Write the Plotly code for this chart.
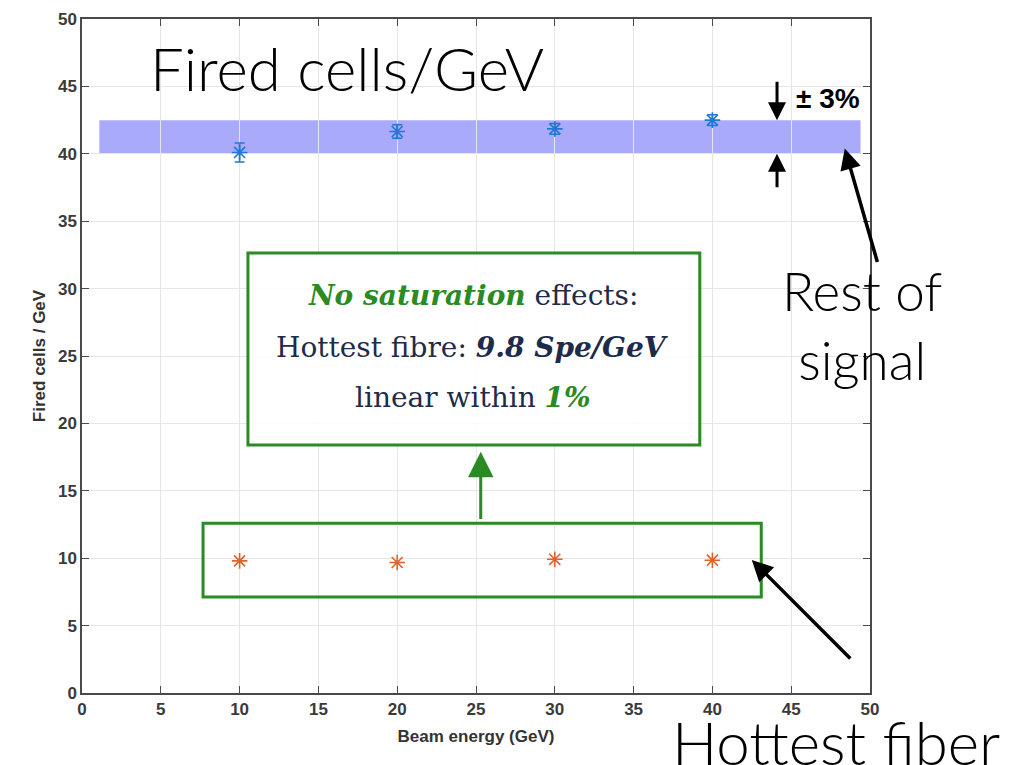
import plotly.graph_objects as go

# ---- data ----
beam_energy = [10, 20, 30, 40]
fired_cells_per_gev = [40.1, 41.65, 41.85, 42.5]
fired_cells_err = [0.7, 0.5, 0.4, 0.4]
hottest_fiber = [9.8, 9.68, 9.92, 9.85]
band_center = 41.25
band_pct = 3.0
band_x = [1.1, 49.4]

x_ticks = [0, 5, 10, 15, 20, 25, 30, 35, 40, 45, 50]
y_ticks = [0, 5, 10, 15, 20, 25, 30, 35, 40, 45, 50]

blue = "#1f78d4"
orange = "#e0622a"
green = "#2a8a24"
navy = "#1f2b4a"
big_font = "Lato"

band_lo = band_center * (1 - band_pct / 100)
band_hi = band_center * (1 + band_pct / 100)

# page body has an 8px margin: shift plot area so that it lands where the reference has it
L, R, T, B = 74, 170, 11, 80
PW, PH = 1032 - L - R, 765 - T - B


def px_paper(px, py):
    """reference pixel -> paper coords (accounting for 8px page offset)"""
    return (px - 8 - L) / PW, (765 - B - (py - 8)) / PH


fig = go.Figure()

fig.add_trace(go.Scatter(
    x=beam_energy, y=fired_cells_per_gev, mode="markers",
    marker=dict(symbol="asterisk-open", size=13, color=blue, line=dict(width=1.6, color=blue)),
    error_y=dict(type="data", array=fired_cells_err, color=blue, thickness=1.5, width=5),
    showlegend=False,
))
fig.add_trace(go.Scatter(
    x=beam_energy, y=hottest_fiber, mode="markers",
    marker=dict(symbol="asterisk-open", size=13, color=orange, line=dict(width=1.6, color=orange)),
    showlegend=False,
))

shapes = [
    dict(type="rect", xref="x", yref="y", x0=band_x[0], x1=band_x[1], y0=band_lo, y1=band_hi,
         fillcolor="rgba(100,100,245,0.55)", line=dict(width=0), layer="below"),
    dict(type="rect", xref="x", yref="y", x0=10.53, x1=39.2, y0=18.4, y1=32.64,
         line=dict(color=green, width=3), fillcolor="rgba(255,255,255,0.85)", layer="above"),
    dict(type="rect", xref="x", yref="y", x0=7.68, x1=43.1, y0=7.12, y1=12.6,
         line=dict(color=green, width=3), fillcolor="rgba(0,0,0,0)", layer="above"),
]

box_font = dict(family="DejaVu Serif", size=28, color=navy)
rx, ry = px_paper(862, 325)
hx, hy = px_paper(670, 742)
annotations = [
    dict(x=4.2, y=46.4, xref="x", yref="y", xanchor="left", yanchor="middle", showarrow=False,
         text="Fired cells/GeV", font=dict(family=big_font, size=60, color="black", weight=300)),
    dict(x=24.8, y=29.5, xref="x", yref="y", xanchor="center", showarrow=False,
         text=f"<b><i><span style='color:{green}'>No saturation</span></i></b> effects:", font=box_font),
    dict(x=24.8, y=25.6, xref="x", yref="y", xanchor="center", showarrow=False,
         text="Hottest fibre: <b><i>9.8 Spe/GeV</i></b>", font=box_font),
    dict(x=24.8, y=21.9, xref="x", yref="y", xanchor="center", showarrow=False,
         text=f"linear within <b><i><span style='color:{green}'>1%</span></i></b>", font=box_font),
    dict(x=25.3, y=17.9, xref="x", yref="y", ax=25.3, ay=12.8, axref="x", ayref="y",
         showarrow=True, arrowhead=2, arrowsize=1.7, arrowwidth=3, arrowcolor=green, text=""),
    dict(x=44.1, y=band_hi, xref="x", yref="y", ax=0, ay=-40, showarrow=True,
         arrowhead=2, arrowsize=1.2, arrowwidth=3, arrowcolor="black", text=""),
    dict(x=44.1, y=band_lo, xref="x", yref="y", ax=0, ay=35, showarrow=True,
         arrowhead=2, arrowsize=1.2, arrowwidth=3, arrowcolor="black", text=""),
    dict(x=45.2, y=44.1, xref="x", yref="y", xanchor="left", showarrow=False,
         text="<b>± 3%</b>", font=dict(family="Liberation Sans", size=28, color="black")),
    dict(x=48.4, y=40.4, xref="x", yref="y", ax=33, ay=115, showarrow=True,
         arrowhead=2, arrowsize=1.2, arrowwidth=3.5, arrowcolor="black", text=""),
    dict(x=rx, y=ry, xref="paper", yref="paper", xanchor="center", yanchor="middle", showarrow=False,
         text="Rest of<br>signal", font=dict(family=big_font, size=53, color="black", weight=300),
         align="center"),
    dict(x=42.5, y=9.87, xref="x", yref="y", ax=100, ay=100, showarrow=True,
         arrowhead=2, arrowsize=1.2, arrowwidth=3.5, arrowcolor="black", text=""),
    dict(x=hx, y=hy, xref="paper", yref="paper", xanchor="left",
         yanchor="middle", showarrow=False, text="Hottest fiber",
         font=dict(family=big_font, size=60, color="black", weight=300)),
]

axis_common = dict(
    showgrid=True, gridcolor="#e6e6e6", gridwidth=1, zeroline=False,
    showline=True, linecolor="#4a4a4a", linewidth=1.5, mirror="allticks",
    ticks="inside", ticklen=7, tickcolor="#4a4a4a", tickwidth=1.2, automargin=False,
    tickfont=dict(family="Liberation Sans", size=17, color="#3a3a3a", weight="bold"),
)

fig.update_layout(
    width=1032, height=765,
    margin=dict(l=L, r=R, t=T, b=B, autoexpand=False),
    paper_bgcolor="white", plot_bgcolor="white",
    xaxis=dict(range=[0, 50], tickvals=x_ticks,
               title=dict(text="Beam energy (GeV)", standoff=12,
                          font=dict(family="Liberation Sans", size=17, color="#333", weight="bold")),
               **axis_common),
    yaxis=dict(range=[0, 50], tickvals=y_ticks,
               title=dict(text="Fired cells / GeV", standoff=8,
                          font=dict(family="Liberation Sans", size=17, color="#333", weight="bold")),
               **axis_common),
    shapes=shapes,
    annotations=annotations,
)

fig.write_html("out.html")
